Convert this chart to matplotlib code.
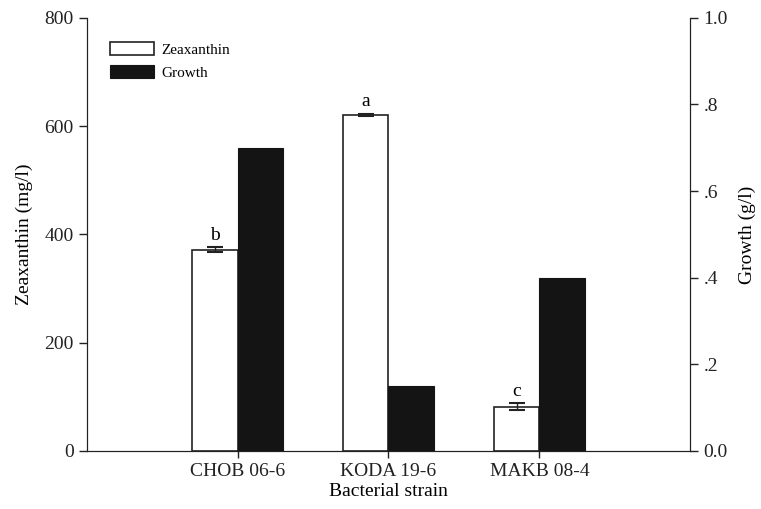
import numpy as np
import matplotlib
matplotlib.use('Agg')
import matplotlib.pyplot as plt

plt.rcParams['font.family'] = ['Liberation Serif', 'DejaVu Serif']

strains = ['CHOB 06-6', 'KODA 19-6', 'MAKB 08-4']
zeaxanthin = [372, 621, 82]
zea_err = [5, 2, 7]
growth = [0.70, 0.15, 0.40]
letters = ['b', 'a', 'c']

x = np.arange(1, len(strains) + 1)
w = 0.3

fig, ax = plt.subplots(figsize=(7.61, 5.09), dpi=100)
fig.subplots_adjust(left=0.114, right=0.907, bottom=0.114, top=0.965)
ax2 = ax.twinx()

ax.bar(x - w / 2, zeaxanthin, w, color='white', edgecolor='#222222', linewidth=1.2,
       yerr=zea_err, capsize=6, error_kw=dict(ecolor='#222222', elinewidth=1, capthick=1.5),
       label='Zeaxanthin', zorder=3)
ax2.bar(x + w / 2, growth, w, color='#141414', edgecolor='#141414', linewidth=0.8,
        label='Growth')

for xi, v, e, t in zip(x, zeaxanthin, zea_err, letters):
    ax.text(xi - w / 2, v + e + 6, t, ha='center', va='bottom', fontsize=14)

ax.set_xlim(0, 4)
ax.set_ylim(0, 800)
ax2.set_ylim(0, 1.0)
ax.set_yticks([0, 200, 400, 600, 800])
ax2.set_yticks([0, 0.2, 0.4, 0.6, 0.8, 1.0])
ax2.set_yticklabels(['0.0', '.2', '.4', '.6', '.8', '1.0'])
ax.set_xticks(x)
ax.set_xticklabels(strains)

for a in (ax, ax2):
    a.spines['top'].set_visible(False)
    a.tick_params(labelsize=14, length=6, width=1, colors='#222222')
    for s in a.spines.values():
        s.set_color('#222222')
ax.tick_params(axis='x', length=5)

ax.set_ylabel('Zeaxanthin (mg/l)', fontsize=14, labelpad=8)
ax2.set_ylabel('Growth (g/l)', fontsize=14, labelpad=8)
ax.set_xlabel('Bacterial strain', fontsize=14, labelpad=2)

h1, l1 = ax.get_legend_handles_labels()
h2, l2 = ax2.get_legend_handles_labels()
ax.legend(h1 + h2, l1 + l2, loc='upper left', bbox_to_anchor=(0.015, 0.975), frameon=False,
          fontsize=11, handlelength=2.9, handleheight=0.9, handletextpad=0.5, labelspacing=0.55)

fig.savefig('out.png', dpi=100)
